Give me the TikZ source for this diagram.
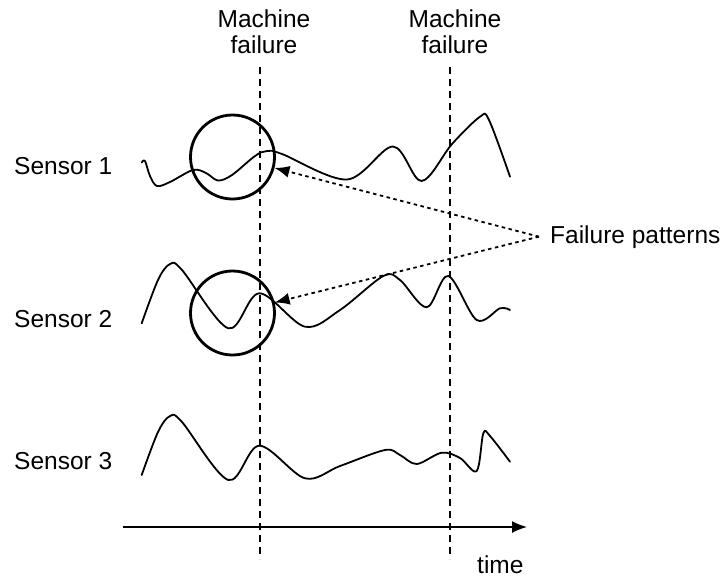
\documentclass[tikz,border=0pt]{standalone}
\usepackage{fontspec}
\setmainfont{Liberation Sans}
\usetikzlibrary{arrows.meta}
\begin{document}
\begin{tikzpicture}[x=1pt,y=-1pt,
  lbl/.style={font=\fontsize{24.5}{26}\selectfont, inner sep=0pt},
  signal/.style={line width=1.8pt, line join=round, line cap=round},
  failline/.style={line width=1.4pt, dash pattern=on 7pt off 5pt},
  pattern/.style={circle, draw, line width=2.8pt, minimum size=84pt, inner sep=0pt},
  pointer/.style={line width=1.8pt, dash pattern=on 3.5pt off 3.5pt, -{Latex[length=15pt,width=12pt]}},
  axis/.style={line width=1.6pt, -{Latex[length=15pt,width=12pt]}}]
\useasboundingbox (0,0) rectangle (727,579);

% failure markers
\coordinate (f1top) at (260,67);
\coordinate (f1bot) at (260,559);
\coordinate (f2top) at (450,67);
\coordinate (f2bot) at (450,559);
\draw[failline] (f1top) -- (f1bot);
\draw[failline] (f2top) -- (f2bot);
\node[lbl, align=center, anchor=base] (mf1) at (264,53) {Machine\\failure};
\node[lbl, align=center, anchor=base] (mf2) at (455,53) {Machine\\failure};

% sensor names
\node[lbl, anchor=base west] (s1) at (14,174) {Sensor 1};
\node[lbl, anchor=base west] (s2) at (14,327) {Sensor 2};
\node[lbl, anchor=base west] (s3) at (14,469) {Sensor 3};

% sensor signals
\draw[signal] plot[smooth, tension=0.55] coordinates {
  (141.7,162.5) (145,161) (150,176) (157,186) (170,182) (193,170)
  (206,173) (218,180.5) (232,175) (255,156) (267,151) (282,154)
  (347,179.5) (393,146.5) (421.5,181) (452,144) (480,116.7) (489,120) (510,176.7)};
\draw[signal] plot[smooth, tension=0.55] coordinates {
  (141.7,323.3) (158,280) (170,264) (182,270) (228.3,328.3) (259.3,293.3)
  (305,326.7) (340,310) (383.3,276) (400,280) (426.7,307.3) (448.3,276)
  (476.7,320) (500,308.3) (510,310)};
\draw[signal] plot[smooth, tension=0.55] coordinates {
  (141.7,475) (158,432) (170,416) (182,422) (228.3,480) (259.3,445.7)
  (305,478.3) (340,466) (385,450) (400,455) (416.7,464) (441.7,452.7)
  (460,458) (476.7,471) (483.3,433.3) (490,436) (510,461.7)};

% time axis
\coordinate (t0) at (123,527);
\coordinate (t1) at (527,527);
\draw[axis] (t0) -- (t1);
\node[lbl, anchor=base west] (time) at (477,573) {time};

% failure patterns
\node[pattern] (c1) at (232.5,157) {};
\node[pattern] (c2) at (232.5,313) {};
\node[lbl, anchor=base west] (fp) at (550,243) {Failure patterns};
\draw[pointer] ([xshift=-11pt]fp.west) -- (c1);
\draw[pointer] ([xshift=-11pt]fp.west) -- (c2);
\end{tikzpicture}
\end{document}
